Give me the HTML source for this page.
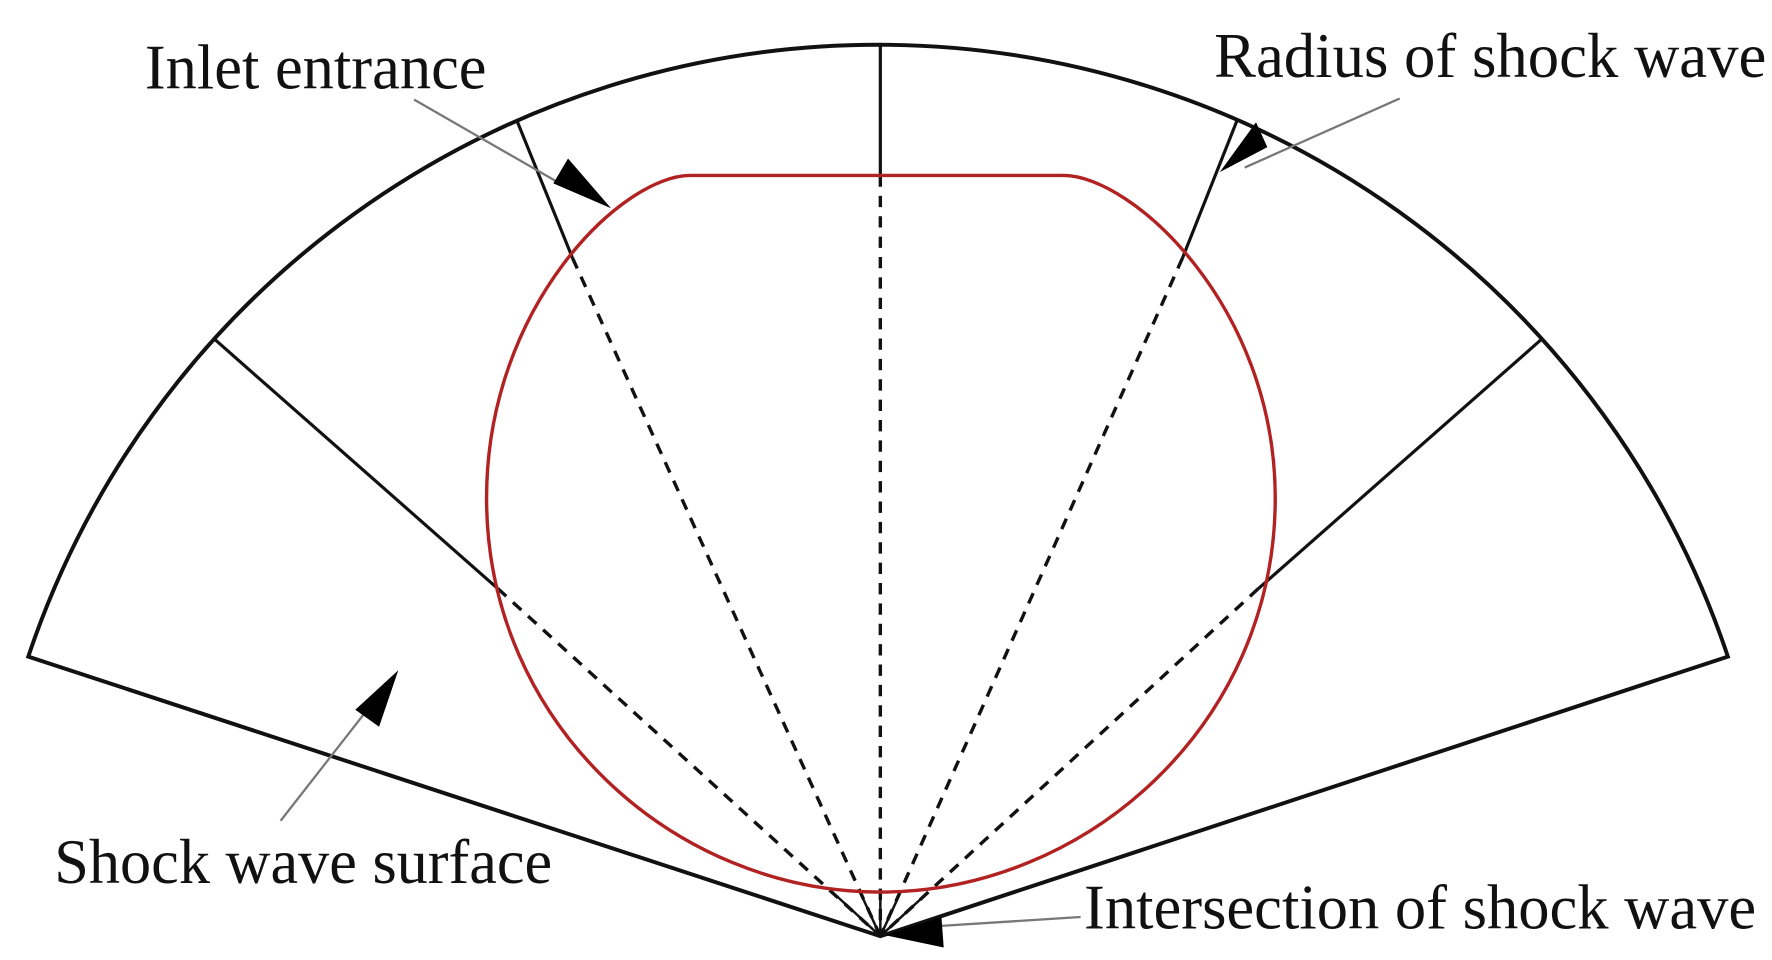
<!DOCTYPE html>
<html><head><meta charset="utf-8"><style>
html,body{margin:0;padding:0;background:#fff;width:1772px;height:960px;overflow:hidden}
svg{display:block}
text{font-family:"Liberation Serif",serif;font-size:56px;fill:#111}
</style></head><body>
<svg width="1772" height="960" viewBox="0 0 1566 848" preserveAspectRatio="none">
<!-- outer fan -->
<path d="M25,580 A792,792 0 0 1 1527,580 L778,827 Z" fill="none" stroke="#111" stroke-width="3.5" stroke-linejoin="miter"/>
<!-- solid radial segments -->
<g stroke="#111" stroke-width="2.8" fill="none">
<line x1="778" y1="40" x2="778" y2="155"/>
<line x1="457" y1="107" x2="506" y2="228"/>
<line x1="1093" y1="107" x2="1045" y2="228"/>
<line x1="190" y1="300" x2="440" y2="520"/>
<line x1="1362" y1="300" x2="1112" y2="520"/>
</g>
<!-- dashed radials -->
<g stroke="#111" stroke-width="3" stroke-dasharray="10,8" fill="none">
<line x1="778" y1="155" x2="778" y2="827"/>
<line x1="506" y1="228" x2="778" y2="827"/>
<line x1="1045" y1="228" x2="778" y2="827"/>
<line x1="440" y1="520" x2="778" y2="827"/>
<line x1="1112" y1="520" x2="778" y2="827"/>
</g>
<!-- solid short rays near apex -->
<g stroke="#111" stroke-width="2.2" fill="none">
<line x1="778" y1="790" x2="778" y2="827"/>
<line x1="761" y1="790" x2="778" y2="827"/>
<line x1="795" y1="790" x2="778" y2="827"/>
<line x1="740" y1="792" x2="778" y2="827"/>
<line x1="816" y1="792" x2="778" y2="827"/>
</g>
<!-- red shape -->
<path d="M610,155 L940,155 C1000,155 1127,270 1127,440 C1127,640 960,788 778,788 C596,788 430,640 430,440 C430,270 550,155 610,155 Z" fill="none" stroke="#b22222" stroke-width="3"/>
<!-- leader lines -->
<g stroke="#777" stroke-width="2" fill="none">
<line x1="366" y1="88" x2="500" y2="165"/>
<line x1="1237" y1="87" x2="1100" y2="148"/>
<line x1="248" y1="725" x2="330" y2="620"/>
<line x1="955" y1="810" x2="830" y2="818"/>
</g>
<!-- arrowheads -->
<g fill="#000">
<polygon points="540,184 489,162 502,140"/>
<polygon points="1078,152 1120,130 1110,108"/>
<polygon points="352,592 314,627 335,642"/>
<polygon points="782,826 832,810 834,837"/>
</g>
<text x="128" y="78" textLength="302" lengthAdjust="spacingAndGlyphs">Inlet entrance</text>
<text x="1073" y="68" textLength="488" lengthAdjust="spacingAndGlyphs">Radius of shock wave</text>
<text x="48" y="780" textLength="440" lengthAdjust="spacingAndGlyphs">Shock wave surface</text>
<text x="958" y="820" textLength="594" lengthAdjust="spacingAndGlyphs">Intersection of shock wave</text>
</svg>
</body></html>
